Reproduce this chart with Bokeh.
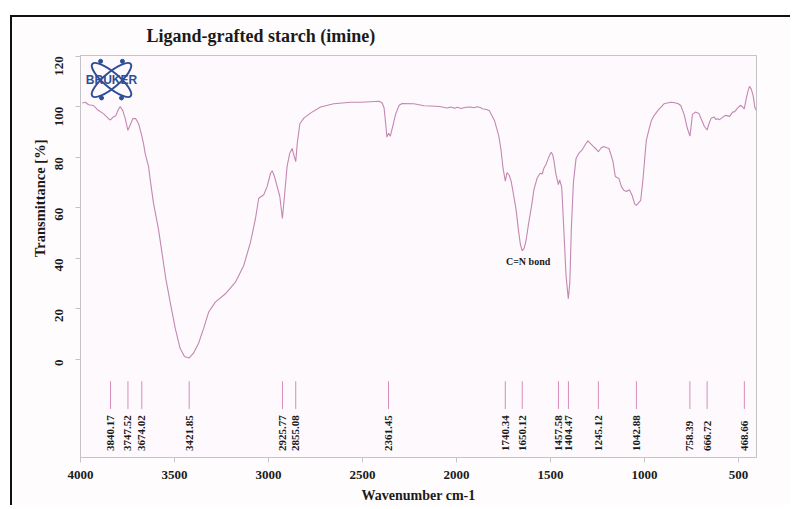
import math
from bokeh.plotting import figure
from bokeh.models import Range1d, FixedTicker, Label, Title
from bokeh.core.properties import value
from bokeh.embed import file_html
from bokeh.resources import INLINE

# FT-IR spectrum of the ligand-grafted starch (imine)
wavenumber = [
    3990, 3975, 3957, 3931, 3904, 3878, 3851, 3840, 3826, 3812, 3801, 3789, 3775,
    3762, 3748, 3736, 3722, 3706, 3691, 3674, 3665, 3656, 3647, 3638, 3629, 3612,
    3585, 3567, 3546, 3523, 3496, 3470, 3447, 3422, 3399, 3372, 3345, 3318, 3283,
    3229, 3176, 3132, 3096, 3070, 3052, 3025, 3007, 2989, 2980, 2968, 2954, 2940,
    2926, 2915, 2901, 2887, 2874, 2865, 2855, 2847, 2833, 2812, 2777, 2723, 2653,
    2562, 2511, 2411, 2395, 2385, 2375, 2370, 2361, 2352, 2340, 2324, 2305, 2289,
    2227, 2172, 2138, 2090, 2050, 2030, 2010, 1996, 1975, 1950, 1922, 1908, 1890,
    1869, 1864, 1840, 1825, 1798, 1775, 1763, 1752, 1740, 1731, 1720, 1709, 1695,
    1683, 1670, 1660, 1650, 1640, 1630, 1617, 1600, 1588, 1571, 1555, 1544, 1535,
    1523, 1508, 1496, 1488, 1481, 1472, 1458, 1451, 1440, 1428, 1417, 1405, 1397,
    1389, 1378, 1364, 1350, 1331, 1315, 1301, 1288, 1275, 1260, 1245, 1230, 1216,
    1200, 1189, 1178, 1168, 1155, 1141, 1136, 1123, 1110, 1096, 1080, 1065, 1052,
    1043, 1035, 1020, 1008, 998, 990, 976, 963, 949, 928, 896, 884, 860, 839, 820,
    807, 789, 772, 758, 750, 745, 729, 710, 697, 683, 667, 656, 645, 630, 620, 610,
    600, 585, 570, 557, 547, 531, 520, 505, 490, 477, 469, 459, 450, 441, 432, 422,
    412, 404,
]
transmittance = [
    101.5, 101.8, 100.8, 100.5, 98.5, 97.3, 95.3, 94.8, 96.0, 96.5, 98.5, 100.1, 98.5,
    95.3, 90.7, 92.7, 95.3, 95.3, 93.3, 88.5, 85.5, 81.6, 78.9, 76.4, 71.1, 62.0,
    51.5, 42.4, 31.9, 22.7, 12.3, 4.4, 1.2, 0.6, 2.5, 6.4, 12.3, 18.8, 22.7,
    26.0, 30.6, 37.1, 46.3, 55.4, 63.8, 65.2, 68.5, 73.7, 74.7, 72.4, 68.5, 64.6,
    55.8, 64.6, 76.4, 81.6, 83.5, 80.9, 78.3, 85.5, 93.3, 95.5, 97.5, 99.9, 101.2,
    101.8, 101.8, 102.2, 101.5, 99.5, 92.0, 88.0, 89.5, 88.3, 92.0, 97.0, 100.6, 101.3,
    101.2, 100.4, 100.3, 100.1, 99.5, 99.9, 99.4, 99.8, 99.3, 99.8, 99.9, 99.6, 100.0,
    99.6, 99.2, 98.9, 98.4, 94.6, 88.5, 82.9, 75.5, 70.6, 74.0, 73.0, 70.5, 64.6,
    59.3, 51.0, 45.5, 43.0, 44.0, 47.0, 53.5, 61.0, 67.2, 71.8, 73.7, 73.4, 75.7,
    77.3, 80.3, 82.0, 81.0, 78.5, 73.7, 69.2, 71.1, 68.0, 50.0, 33.0, 24.0, 30.6,
    51.5, 70.0, 79.5, 81.5, 83.0, 85.0, 86.5, 85.5, 84.5, 83.5, 82.2, 83.8, 84.3,
    83.8, 83.5, 81.0, 78.5, 72.4, 71.8, 71.6, 68.5, 67.0, 66.5, 67.2, 64.8, 61.5,
    61.0, 61.7, 63.0, 71.1, 80.0, 86.8, 91.0, 94.6, 96.5, 98.6, 101.2, 101.4, 101.8, 101.6, 101.2,
    100.5, 97.0, 91.5, 88.4, 93.5, 97.0, 97.9, 97.3, 95.0, 92.5, 90.8, 93.5, 95.5, 96.0, 95.0, 95.3,
    94.9, 95.8, 96.6, 96.4, 96.2, 97.9, 98.1, 99.5, 100.6, 99.9, 99.2, 103.0, 106.0, 108.1, 107.0, 104.5,
    99.5, 98.5,
]

# picked peak positions
peaks = [3840.17, 3747.52, 3674.02, 3421.85, 2925.77, 2855.08, 2361.45, 1740.34,
         1650.12, 1457.58, 1404.47, 1245.12, 1042.88, 758.39, 666.72, 468.66]
peak_labels = [f"{v:.2f}" for v in peaks]

x_ticks = [500, 1000, 1500, 2000, 2500, 3000, 3500, 4000]
y_ticks = [0, 20, 40, 60, 80, 100, 120]

SERIF = "Liberation Serif"
CURVE = "#c387b2"
MARK = "#d98cba"
GREY = "#c4c4c4"
INK = "#1a1a1a"

p = figure(
    width=780, height=490,
    x_range=Range1d(4000, 404), y_range=Range1d(-38.8, 120.3),
    output_backend="svg", toolbar_location=None,
    min_border_left=68, min_border_top=36, min_border_right=36, min_border_bottom=50,
    background_fill_color="#fdf9fc", border_fill_color="#fefcfd",
)
p.styles = {"margin-left": "10px", "margin-top": "15px",
            "border-left": "2px solid #111", "border-top": "2px solid #111"}
p.outline_line_color = GREY
p.xgrid.visible = False
p.ygrid.visible = False

p.title.text = "Ligand-grafted starch (imine)"
p.title.align = "left"
p.title.vertical_align = "top"
p.title.offset = 66
p.title.standoff = 16
p.title.text_font = SERIF
p.title.text_font_style = "bold"
p.title.text_font_size = "18px"
p.title.text_color = INK

for ax in (p.xaxis[0], p.yaxis[0]):
    ax.axis_line_color = GREY
    ax.major_tick_line_color = GREY
    ax.minor_tick_line_color = None
    ax.major_tick_out = 5
    ax.major_tick_in = 0
    ax.major_label_text_font = SERIF
    ax.major_label_text_font_style = "bold"
    ax.major_label_text_font_size = "13px"
    ax.major_label_text_color = INK

p.xaxis.ticker = FixedTicker(ticks=x_ticks)
p.yaxis.ticker = FixedTicker(ticks=y_ticks)
p.xaxis.major_label_standoff = 8
p.yaxis.major_label_standoff = 16
p.yaxis.major_label_orientation = math.pi / 2

p.xaxis.axis_label = "Wavenumber cm-1"
p.xaxis.axis_label_text_font = SERIF
p.xaxis.axis_label_text_font_style = "bold"
p.xaxis.axis_label_text_font_size = "14px"
p.xaxis.axis_label_text_color = INK
p.xaxis.axis_label_standoff = 6

# y label sits in the upper half of the left margin
ylab = Title(text="Transmittance [%]", align="right", offset=84, standoff=2,
             text_font=SERIF, text_font_style="bold", text_font_size="14.5px",
             text_color=INK)
p.add_layout(ylab, "left")

# spectrum
p.line(wavenumber, transmittance, line_color=CURVE, line_width=1.1)

# peak markers and their wavenumber labels
p.segment(x0=peaks, y0=-8.6, x1=peaks, y1=-19.6, line_color=MARK, line_width=1)
p.text(x=peaks, y=-36.2, text=peak_labels, angle=math.pi / 2,
       text_align="left", text_baseline="middle",
       text_font=value(SERIF), text_font_style="bold",
       text_font_size="11px", text_color=INK)

p.add_layout(Label(x=1619, y=38.8, text="C=N bond", text_align="center",
                   text_baseline="middle", text_font=SERIF, text_font_style="bold",
                   text_font_size="10px", text_color=INK))

# instrument logo
LOGO = "#2e4f95"
p.ellipse(x=[3835, 3835], y=[110.6, 110.6], width=[50, 50], height=[15, 15],
          angle=[40, -40], angle_units="deg", width_units="screen", height_units="screen",
          fill_color=None, line_color=LOGO, line_width=2)
p.scatter(x=[3893, 3777, 3888, 3782], y=[118, 118, 103.5, 103.5], size=4,
          fill_color=LOGO, line_color=LOGO)
p.text(x=[3835], y=[110.6], text=["BRUKER"], text_align="center", text_baseline="middle",
       text_font=value("Liberation Sans"), text_font_style="bold",
       text_font_size="12px", text_color=LOGO)

open("out.html", "w").write(file_html(p, INLINE))
